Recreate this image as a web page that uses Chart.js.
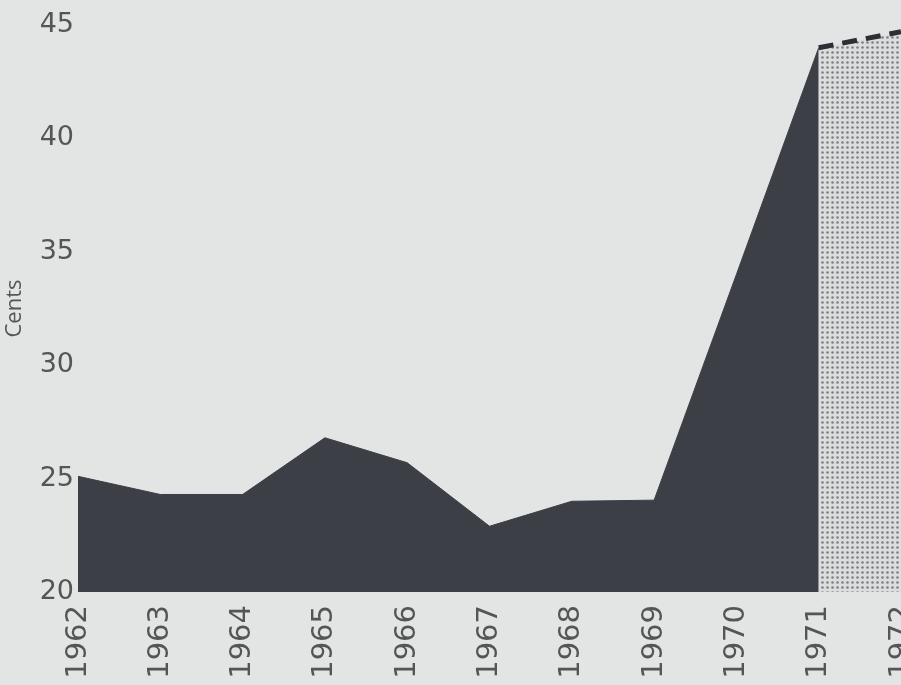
<!DOCTYPE html>
<html>
<head>
<meta charset="utf-8">
<script src="https://cdn.jsdelivr.net/npm/chart.js@4"></script>
<style>
  html, body { margin: 0; padding: 0; background: #e3e5e5; overflow: hidden; }
  #wrap { width: 901px; height: 685px; position: relative; }
</style>
</head>
<body>
<div id="wrap"><canvas id="myChart"></canvas></div>
<script>
// Data
let years = ['1962', '1963', '1964', '1965', '1966', '1967', '1968', '1969', '1970', '1971', '1972'];
let cents = [25.1, 24.3, 24.3, 26.8, 25.7, 22.9, 24.0, 24.05, 34.0, 44.0, null];
let projected = [null, null, null, null, null, null, null, null, null, 44.0, 44.7];
let yTicks = [20, 25, 30, 35, 40, 45];

// Dotted fill for the projected year
function dotPattern() {
    let c = document.createElement('canvas');
    c.width = 5;
    c.height = 5;
    let g = c.getContext('2d');
    g.fillStyle = '#dcdede';
    g.fillRect(0, 0, 5, 5);
    g.fillStyle = '#7c7f82';
    g.beginPath();
    g.arc(2.5, 2.5, 1.3, 0, Math.PI * 2);
    g.fill();
    return g.createPattern(c, 'repeat');
}

let ctx = document.getElementById('myChart').getContext('2d');
let tickFont = { family: '"DejaVu Sans", sans-serif', size: 27 };
let yearFont = { family: '"DejaVu Sans", sans-serif', size: 29 };

const config = {
    type: 'line',
    data: {
        labels: years,
        datasets: [{
            label: 'Cents',
            data: cents,
            backgroundColor: '#3c3f45',
            borderColor: '#3c3f45',
            borderWidth: 1,
            pointRadius: 0,
            fill: 'start',
            tension: 0
        },
        {
            label: 'Projected',
            data: projected,
            backgroundColor: dotPattern(),
            borderColor: '#2c2f33',
            borderWidth: 5,
            borderDash: [15, 9],
            pointRadius: 0,
            fill: 'start',
            tension: 0
        }]
    },
    options: {
        responsive: true,
        maintainAspectRatio: false,
        animation: false,
        layout: { padding: { top: 25, right: 0, bottom: 0, left: 0 } },
        plugins: {
            legend: { display: false },
            tooltip: { enabled: false }
        },
        scales: {
            x: {
                offset: false,
                grid: { display: false, drawTicks: false },
                border: { display: false },
                ticks: {
                    minRotation: 90,
                    maxRotation: 90,
                    autoSkip: false,
                    padding: 13,
                    color: '#555',
                    font: yearFont
                },
                afterFit: (scale) => {
                    scale.height = 93;
                    scale.paddingLeft = 0;
                    scale.paddingRight = 0;
                }
            },
            y: {
                min: 20,
                max: 45,
                grid: { display: false, drawTicks: false },
                border: { display: false },
                afterBuildTicks: (scale) => {
                    scale.ticks = yTicks.map(v => ({ value: v }));
                },
                ticks: {
                    padding: 4,
                    color: '#555',
                    font: tickFont
                },
                title: {
                    display: true,
                    text: 'Cents',
                    color: '#555',
                    font: { family: '"Open Sans", sans-serif', size: 22 },
                    padding: { top: 2, bottom: 0 }
                },
                afterFit: (scale) => {
                    scale.width = 78;
                    scale.paddingTop = 0;
                    scale.paddingBottom = 0;
                }
            }
        }
    }
};

const theChart = new Chart(ctx, config);
</script>
</body>
</html>
